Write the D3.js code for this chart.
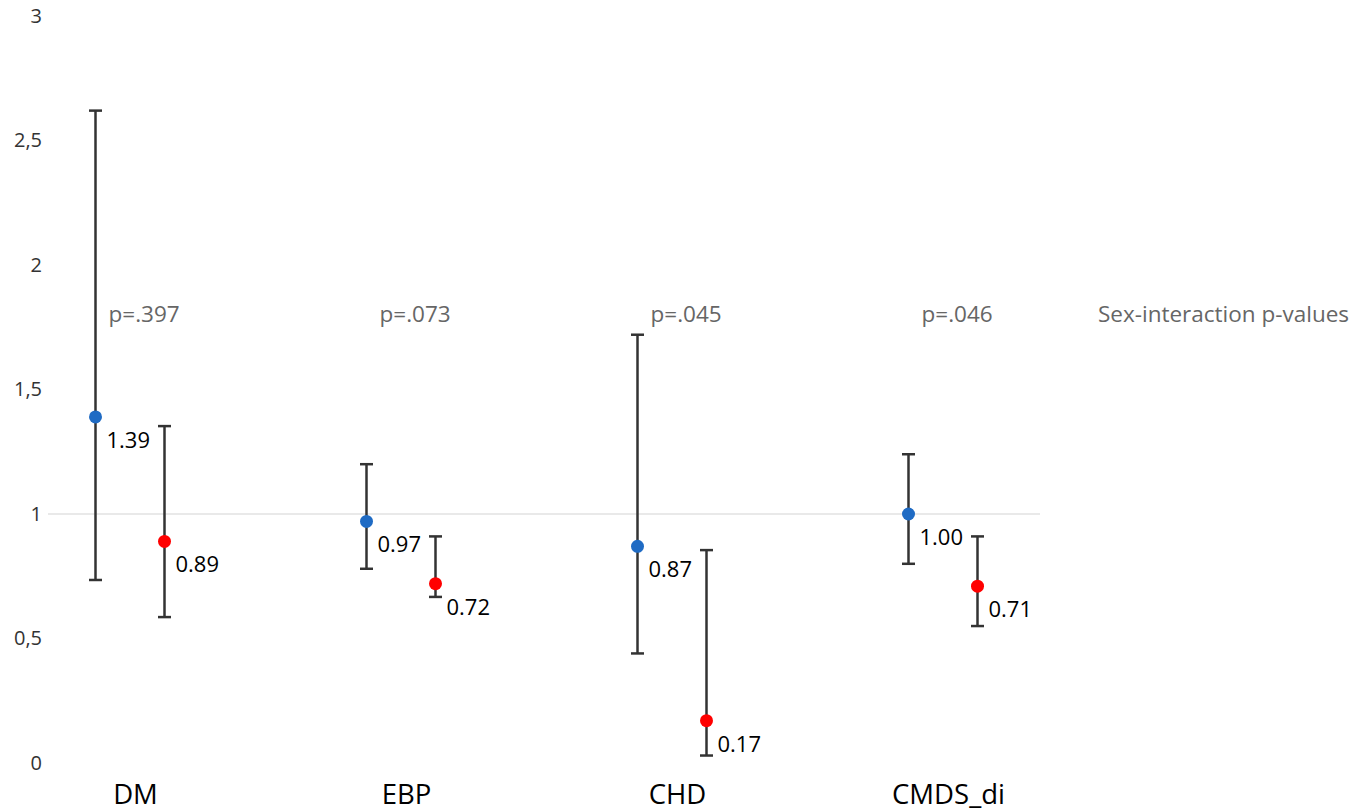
<!DOCTYPE html>
<html lang="en">
	<head>
		<meta charset="utf-8">
		<title>Sex-specific estimates with sex-interaction p-values</title>
		<script type="text/javascript" src="https://cdn.jsdelivr.net/npm/d3@7"></script>
		<style type="text/css">
			body { margin: 0; background: #fff; }
			text { font-family: "Open Sans", "Noto Sans", sans-serif; }
			.y.axis text { font-size: 20px; fill: #333; }
		</style>
	</head>
	<body>
		<script type="text/javascript">
			// data
			var categories = ["DM", "EBP", "CHD", "CMDS_di"];
			var pValues = ["p=.397", "p=.073", "p=.045", "p=.046"];

			var blueEst = [1.39, 0.97, 0.87, 1.00];
			var blueLow = [0.735, 0.78, 0.44, 0.80];
			var blueHigh = [2.62, 1.20, 1.72, 1.24];

			var redEst = [0.89, 0.72, 0.17, 0.71];
			var redLow = [0.586, 0.667, 0.03, 0.55];
			var redHigh = [1.353, 0.91, 0.855, 0.91];

			var yTicks = [0, 0.5, 1, 1.5, 2, 2.5, 3];

			var w = 1355;
			var h = 811;

			var svg = d3.select("body")
						.append("svg")
						.attr("width", w)
						.attr("height", h);

			var xScale = d3.scalePoint()
						.domain(categories)
						.range([130, 943]);

			var yScale = d3.scaleLinear()
						.domain([0, 3])
						.range([763, 16]);

			var commaFmt = d3.formatLocale({decimal: ",", thousands: ".", grouping: [3], currency: ["", ""]}).format("~g");

			var gap = 34.5;  // half distance between the two series in a group

			// Y axis labels only, no line
			var yAxis = d3.axisLeft()
						.scale(yScale)
						.tickValues(yTicks)
						.tickFormat(commaFmt)
						.tickSize(0)
						.tickPadding(0);

			var gy = svg.append("g")
				.attr("class", "y axis")
				.attr("transform", "translate(42,0)")
				.call(yAxis);
			gy.select(".domain").remove();

			// reference line at 1
			svg.append("line")
				.attr("x1", 48)
				.attr("x2", 1040)
				.attr("y1", yScale(1))
				.attr("y2", yScale(1))
				.attr("stroke", "#e2e2e2")
				.attr("stroke-width", 1.5);

			// X axis labels only
			var xAxis = d3.axisBottom()
						.scale(xScale)
						.tickSize(0)
						.tickPadding(0);

			var gx = svg.append("g")
				.attr("class", "x axis")
				.attr("transform", "translate(5,784)")
				.call(xAxis);
			gx.select(".domain").remove();
			gx.selectAll("text")
				.attr("font-size", "27.5px")
				.attr("fill", "#000");

			function drawSeries(est, low, high, offset, color) {
				var g = svg.append("g");
				var rows = categories.map(function(c, i) {
					return {cat: c, est: est[i], low: low[i], high: high[i]};
				});

				var bars = g.selectAll("g.bar")
					.data(rows)
					.enter()
					.append("g")
					.attr("class", "bar");

				bars.append("line")
					.attr("x1", function(d) { return xScale(d.cat) + offset; })
					.attr("x2", function(d) { return xScale(d.cat) + offset; })
					.attr("y1", function(d) { return yScale(d.low); })
					.attr("y2", function(d) { return yScale(d.high); })
					.attr("stroke", "#333")
					.attr("stroke-width", 2.5);

				["low", "high"].forEach(function(k) {
					bars.append("line")
						.attr("x1", function(d) { return xScale(d.cat) + offset - 6.5; })
						.attr("x2", function(d) { return xScale(d.cat) + offset + 6.5; })
						.attr("y1", function(d) { return yScale(d[k]); })
						.attr("y2", function(d) { return yScale(d[k]); })
						.attr("stroke", "#333")
						.attr("stroke-width", 2.5);
				});

				bars.append("circle")
					.attr("cx", function(d) { return xScale(d.cat) + offset; })
					.attr("cy", function(d) { return yScale(d.est); })
					.attr("r", 6.5)
					.attr("fill", color);

				bars.append("text")
					.text(function(d) { return d.est.toFixed(2); })
					.attr("x", function(d) { return xScale(d.cat) + offset + 11; })
					.attr("y", function(d) { return yScale(d.est) + 31; })
					.attr("font-size", "22px")
					.attr("fill", "#000");
			}

			drawSeries(blueEst, blueLow, blueHigh, -gap, "#1f6bc4");
			drawSeries(redEst, redLow, redHigh, gap, "#ff0000");

			// p-values
			svg.selectAll("text.pval")
				.data(pValues)
				.enter()
				.append("text")
				.attr("class", "pval")
				.text(function(d) { return d; })
				.attr("x", function(d, i) { return xScale(categories[i]) - gap + 13; })
				.attr("y", 322)
				.attr("font-size", "22.5px")
				.attr("fill", "#666");

			svg.append("text")
				.text("Sex-interaction p-values")
				.attr("x", 1098)
				.attr("y", 322)
				.attr("font-size", "22.5px")
				.attr("fill", "#666");
		</script>
	</body>
</html>
